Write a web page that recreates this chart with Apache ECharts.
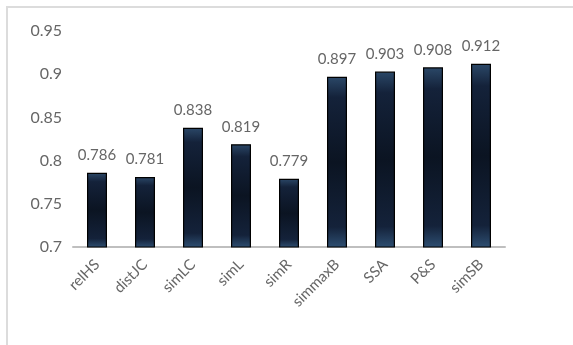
<!DOCTYPE html>
<html><head><meta charset="utf-8">
<script src="https://cdn.jsdelivr.net/npm/echarts@6/dist/echarts.min.js"></script>
<style>
html,body{margin:0;padding:0;background:#fff;}
#frame{position:absolute;left:6px;top:6px;width:567px;height:339px;border-top:2px solid #dcdcdc;border-left:2px solid #dcdcdc;box-sizing:border-box;}
#c{position:absolute;left:0;top:0;width:573px;height:345px;}
</style></head>
<body>
<div id="frame"></div>
<div id="c"></div>
<script>
const categories = ['relHS','distJC','simLC','simL','simR','simmaxB','SSA','P&S','simSB'];
const values = [0.786,0.781,0.838,0.819,0.779,0.897,0.903,0.908,0.912];
const yMin = 0.7, yMax = 0.95, yStep = 0.05;

const chart = echarts.init(document.getElementById('c'));
const font = 'Lato, "Open Sans", sans-serif';
chart.setOption({
  animation:false,
  grid:{left:73,right:68,top:31,bottom:98},
  xAxis:{
    type:'category', data:categories,
    axisLine:{lineStyle:{color:'#bfbfbf',width:2}},
    axisTick:{show:false},
    axisLabel:{rotate:45,color:'#666',fontSize:15,fontFamily:font,margin:15,interval:0}
  },
  yAxis:{
    type:'value', min:yMin, max:yMax, interval:yStep,
    axisLine:{show:false}, axisTick:{show:false},
    splitLine:{show:false},
    axisLabel:{color:'#666',fontSize:16,fontFamily:font,margin:11,
      formatter:v=>String(Math.round(v*100)/100)}
  },
  series:[{
    type:'bar', data:values, barWidth:20,
    itemStyle:{
      color:new echarts.graphic.LinearGradient(0,0,0,1,[
        {offset:0,color:'#2b4868'},{offset:0.12,color:'#14223a'},
        {offset:0.5,color:'#0b1422'},{offset:0.88,color:'#14223a'},{offset:1,color:'#2e4f72'}]),
      borderColor:'#000',borderWidth:1.2
    },
    label:{show:true,position:'top',distance:10,color:'#666',fontSize:15,fontFamily:font,
      formatter:p=>p.value.toFixed(3)}
  }]
});
</script>
</body></html>
